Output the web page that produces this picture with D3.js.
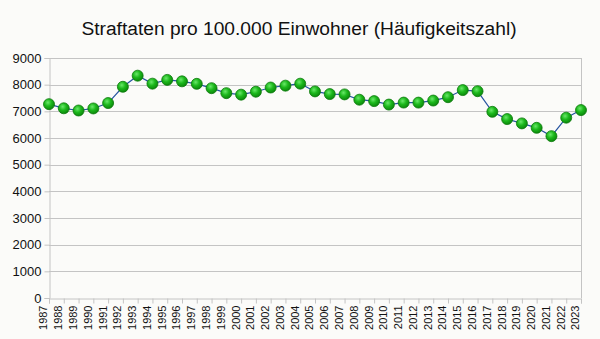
<!DOCTYPE html>
<html><head><meta charset="utf-8">
<script src="https://cdn.jsdelivr.net/npm/d3@7"></script>
<style>
html,body{margin:0;padding:0;background:#fbfbf9;}
svg{display:block;font-family:"Liberation Sans",Arial,sans-serif;}
</style></head>
<body><svg id="c" width="600" height="339"></svg>
<script>
const years = [1987,1988,1989,1990,1991,1992,1993,1994,1995,1996,1997,1998,1999,2000,2001,2002,2003,2004,2005,2006,2007,2008,2009,2010,2011,2012,2013,2014,2015,2016,2017,2018,2019,2020,2021,2022,2023];
const values = [7269,7114,7031,7108,7311,7921,8337,8038,8179,8125,8031,7869,7682,7625,7736,7893,7963,8037,7747,7647,7635,7436,7383,7253,7328,7327,7404,7530,7797,7755,6982,6710,6548,6382,6070,6762,7047];
const yTicks = [0,1000,2000,3000,4000,5000,6000,7000,8000,9000];
const title = "Straftaten pro 100.000 Einwohner (Häufigkeitszahl)";

const svg = d3.select("#c");
const L = 49, R = 581, T = 58, B = 298;
const x = d3.scalePoint().domain(years).range([L, R]);
const y = d3.scaleLinear().domain([0, 9000]).range([B, T]);

const defs = svg.append("defs");
const g = defs.append("radialGradient").attr("id","ball").attr("cx","0.4").attr("cy","0.35").attr("r","0.65");
g.append("stop").attr("offset","0").attr("stop-color","#6ae86a");
g.append("stop").attr("offset","0.5").attr("stop-color","#1cb81c");
g.append("stop").attr("offset","1").attr("stop-color","#0c880c");

svg.append("rect").attr("width",600).attr("height",339).attr("fill","#fbfbf9");

// title
svg.append("text").attr("x",299).attr("y",35).attr("text-anchor","middle")
  .attr("font-size",19.2).attr("fill","#111").text(title);

// gridlines
svg.append("g").selectAll("line").data(yTicks.filter(d=>d>0)).join("line")
  .attr("x1",L).attr("x2",R).attr("y1",d=>Math.round(y(d))+0.5).attr("y2",d=>Math.round(y(d))+0.5)
  .attr("stroke","#c4c4c4").attr("stroke-width",1);
// right border
svg.append("line").attr("x1",R+0.5).attr("x2",R+0.5).attr("y1",T).attr("y2",B)
  .attr("stroke","#c4c4c4");

// y axis
const ya = svg.append("g").attr("transform",`translate(${L+0.5},0)`)
  .call(d3.axisLeft(y).tickValues(yTicks).tickSize(5).tickPadding(3).tickFormat(d3.format("d")));
ya.select(".domain").attr("stroke","#c4c4c4");
ya.selectAll(".tick line").attr("stroke","#c4c4c4");
ya.selectAll("text").attr("font-size",13).attr("fill","#111").attr("font-family","Liberation Sans, Arial, sans-serif");

// x axis
const xa = svg.append("g").attr("transform",`translate(0,${B+0.5})`)
  .call(d3.axisBottom(x).tickSize(5).tickPadding(3).tickFormat(d3.format("d")));
xa.select(".domain").attr("stroke","#c4c4c4");
xa.selectAll(".tick line").attr("stroke","#c4c4c4");
xa.selectAll("text").attr("font-size",11).attr("fill","#111").attr("font-family","Liberation Sans, Arial, sans-serif")
  .attr("transform","rotate(-90)").attr("text-anchor","end").attr("dx","-7").attr("dy","-0.45em").attr("y",0).attr("x",0)
  .style("dominant-baseline","middle");

// line
svg.append("path").datum(values.map((v,i)=>[years[i],v]))
  .attr("fill","none").attr("stroke","#2553a0").attr("stroke-width",1.2)
  .attr("d", d3.line().x(d=>x(d[0])).y(d=>y(d[1])));

// markers
svg.append("g").selectAll("circle").data(values.map((v,i)=>[years[i],v])).join("circle")
  .attr("cx",d=>x(d[0])).attr("cy",d=>y(d[1])).attr("r",5.5)
  .attr("fill","url(#ball)").attr("stroke","#0b7a0b").attr("stroke-width",0.8);
</script></body></html>
